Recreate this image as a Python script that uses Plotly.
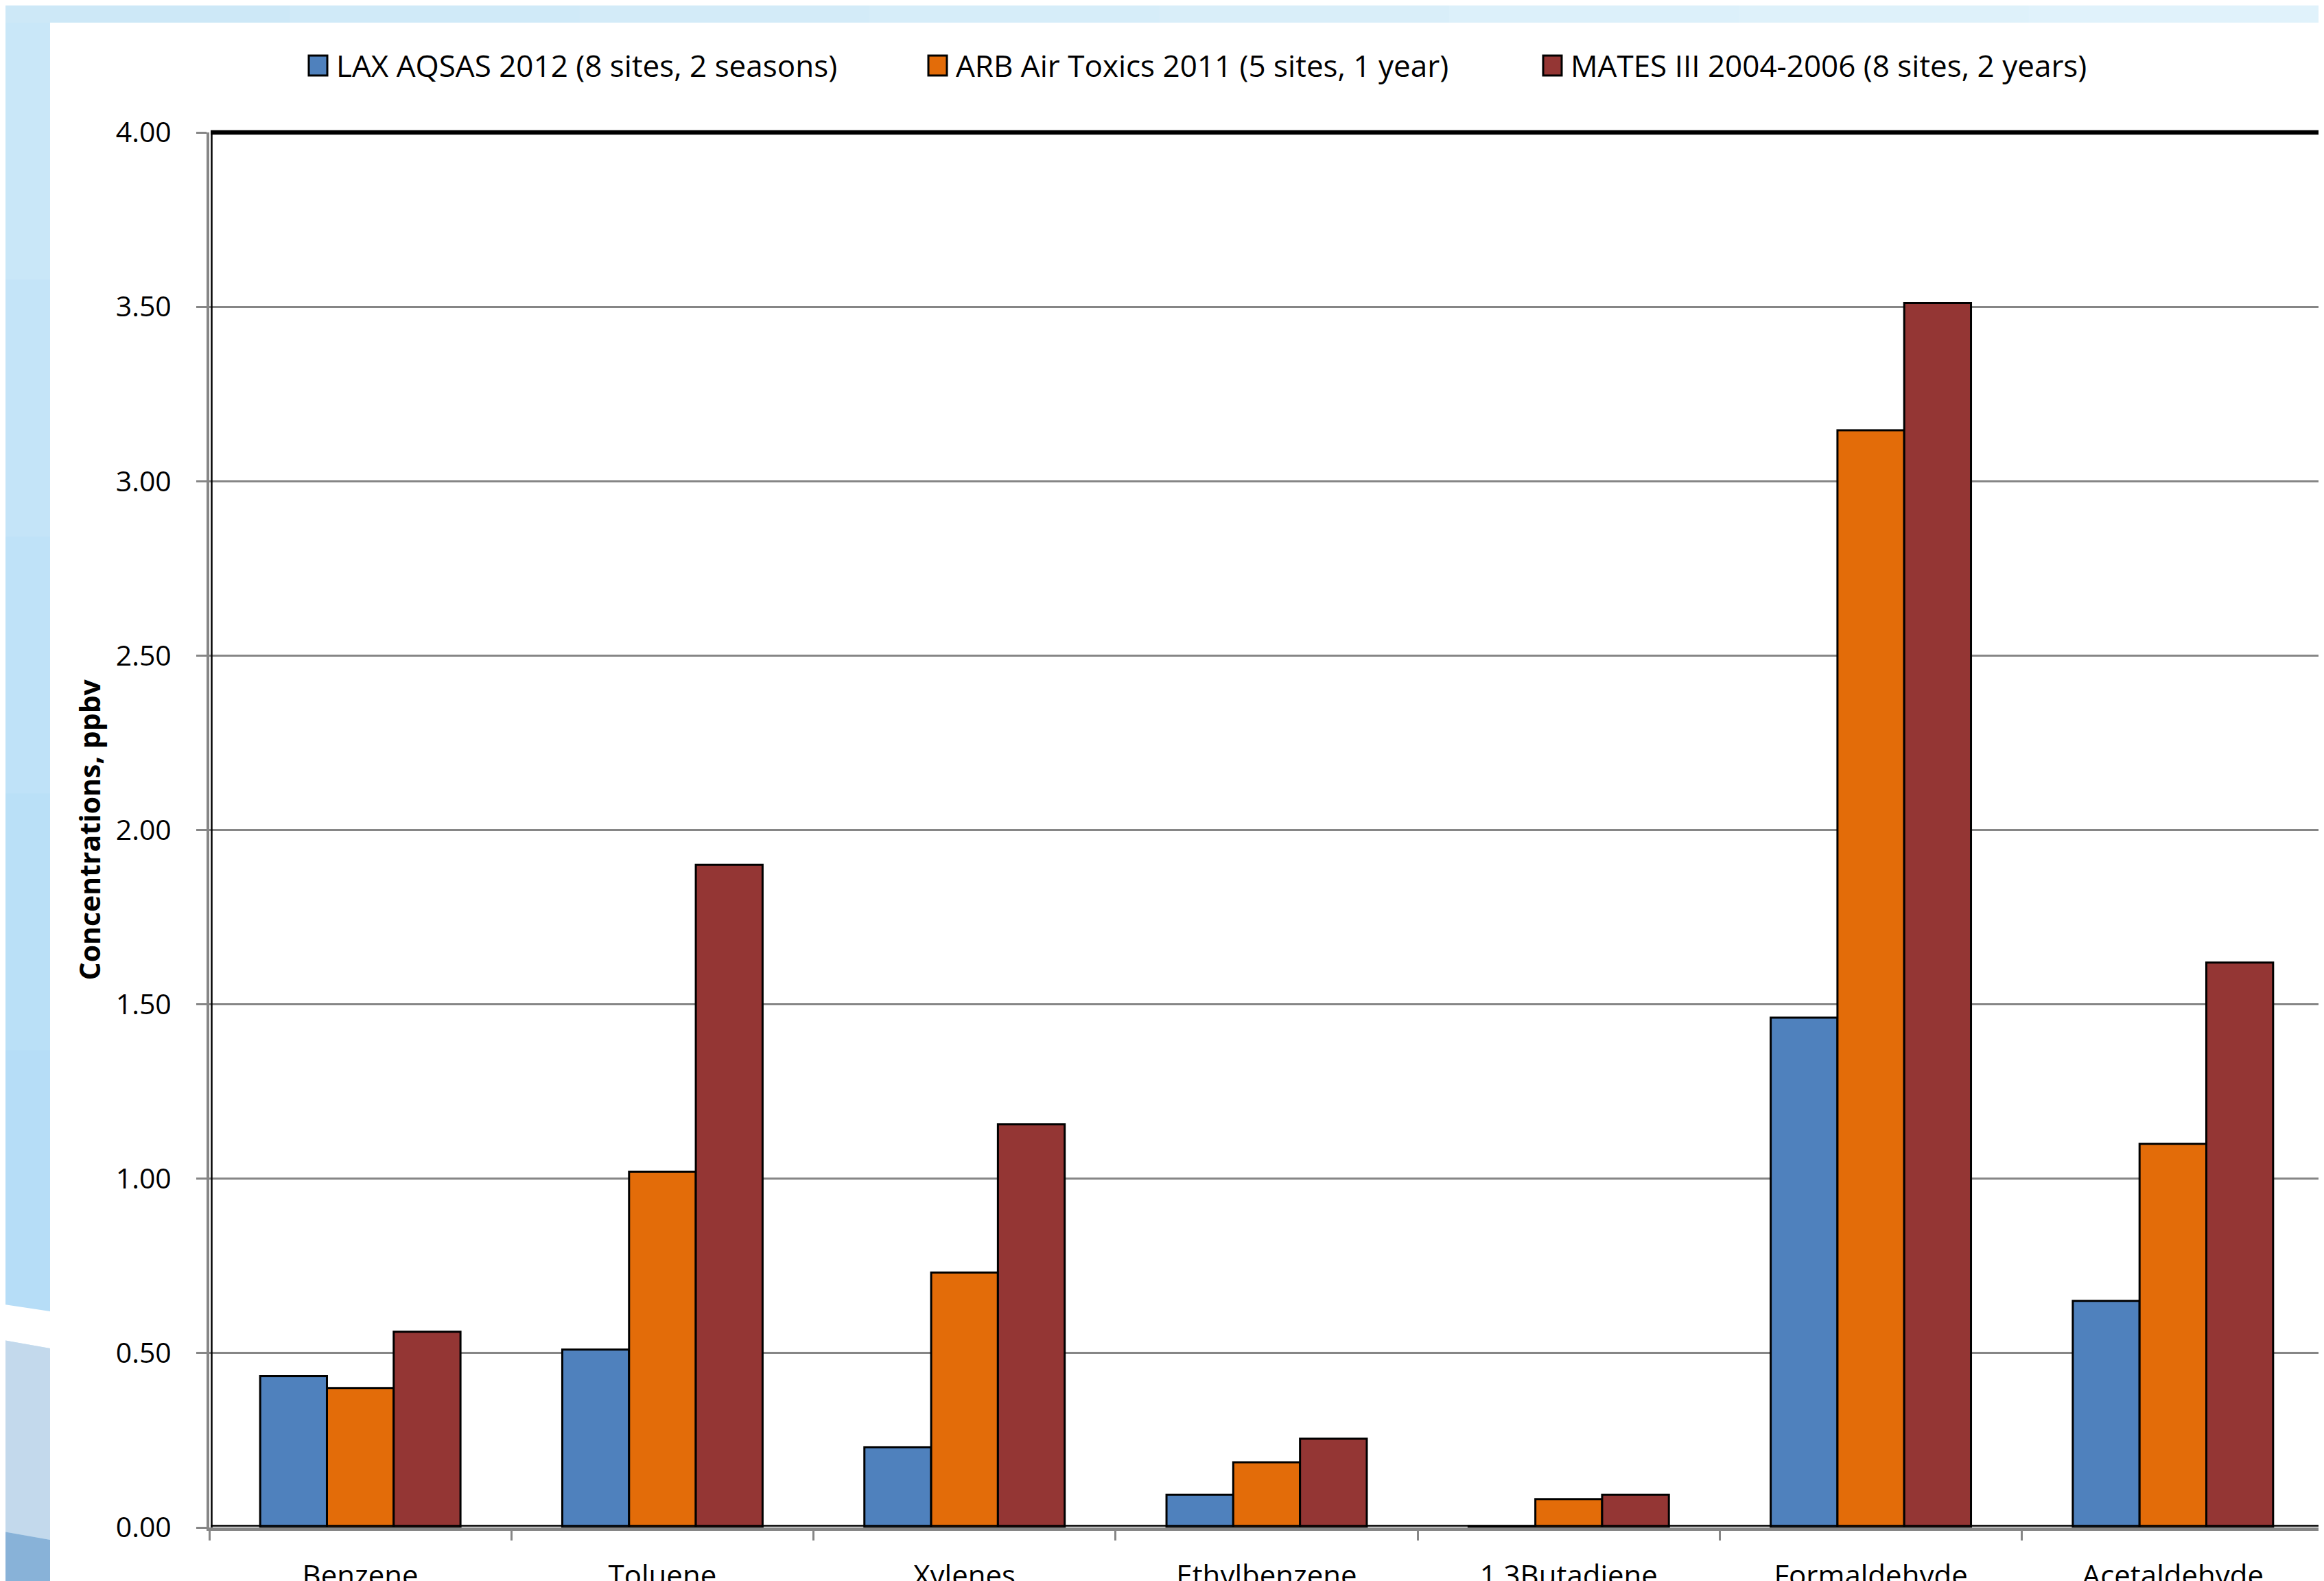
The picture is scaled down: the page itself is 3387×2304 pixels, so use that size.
import plotly.graph_objects as go

# ---------------- data ----------------
categories = ["Benzene", "Toluene", "Xylenes", "Ethylbenzene",
              "1,3Butadiene", "Formaldehyde", "Acetaldehyde"]
series_names = ["LAX AQSAS 2012 (8 sites, 2 seasons)",
                "ARB Air Toxics 2011 (5 sites, 1 year)",
                "MATES III 2004-2006 (8 sites, 2 years)"]
lax_2012 = [0.434, 0.51, 0.23, 0.094, 0.004, 1.462, 0.65]
arb_2011 = [0.40, 1.02, 0.731, 0.187, 0.081, 3.146, 1.10]
mates_iii = [0.561, 1.90, 1.156, 0.255, 0.094, 3.511, 1.62]
y_tick_values = [0.0, 0.5, 1.0, 1.5, 2.0, 2.5, 3.0, 3.5, 4.0]
y_title = "Concentrations, ppbv"

# ---------------- style / layout ----------------
OFF = 8                      # default page body margin
W, H = 3387 - OFF, 2304 - OFF
ML, MR, MT, MB = 305 - OFF, 0, 193 - OFF, 78
PW, PH = W - ML - MR, H - MT - MB
colors = ["#4F81BD", "#E36C09", "#943634"]
FONT = "Open Sans"


def px2x(px):
    """screen px (reference image) -> paper x"""
    return (px - OFF - ML) / PW


def px2y(py):
    """screen px (reference image) -> paper y"""
    return (H - MB - (py - OFF)) / PH


fig = go.Figure()
for name, vals, col in zip(series_names, [lax_2012, arb_2011, mates_iii], colors):
    fig.add_trace(go.Bar(x=categories, y=vals, name=name,
                         marker=dict(color=col, line=dict(color="black", width=3)),
                         showlegend=False))

shapes = []
# slide background decoration
top_cols = ["#cde8f7", "#d0eaf8", "#d3ebf8", "#d6edf9", "#d9eef9", "#dcf0fa", "#def1fa", "#e0f2fb"]
n = len(top_cols)
for i, c in enumerate(top_cols):
    shapes.append(dict(type="rect", xref="paper", yref="paper",
                       x0=px2x(W * i / n), x1=px2x(W * (i + 1) / n + 10),
                       y0=px2y(33), y1=px2y(0), fillcolor=c, line=dict(width=0), layer="below"))
left_cols = ["#c9e7f8", "#c4e4f8", "#bfe2f8", "#bae0f7", "#b6ddf7"]
m = len(left_cols)
for i, c in enumerate(left_cols):
    y0 = 33 + (1905 - 33) * i / m
    y1 = 33 + (1905 - 33) * (i + 1) / m + 2
    shapes.append(dict(type="rect", xref="paper", yref="paper",
                       x0=px2x(0), x1=px2x(73), y0=px2y(y1), y1=px2y(y0),
                       fillcolor=c, line=dict(width=0), layer="below"))
shapes.append(dict(type="path", xref="paper", yref="paper",
                   path="M {a},{b} L {c},{b} L {c},{d} L {a},{e} Z".format(
                       a=px2x(0), c=px2x(73), b=px2y(1890), d=px2y(1965), e=px2y(1952)),
                   fillcolor="#ffffff", line=dict(width=0), layer="below"))
shapes.append(dict(type="path", xref="paper", yref="paper",
                   path="M {a},{b} L {c},{b} L {c},{d} L {a},{e} Z".format(
                       a=px2x(0), c=px2x(73), b=px2y(1880), d=px2y(1911), e=px2y(1900)),
                   fillcolor="#b6ddf7", line=dict(width=0), layer="below"))
shapes.append(dict(type="path", xref="paper", yref="paper",
                   path="M {a},{b} L {c},{d} L {c},{f} L {a},{g} Z".format(
                       a=px2x(0), c=px2x(73), b=px2y(1952), d=px2y(1965), f=px2y(2244), g=px2y(2231)),
                   fillcolor="#c3d9ec", line=dict(width=0), layer="below"))
shapes.append(dict(type="path", xref="paper", yref="paper",
                   path="M {a},{b} L {c},{d} L {c},{f} L {a},{f} Z".format(
                       a=px2x(0), c=px2x(73), b=px2y(2231), d=px2y(2244), f=px2y(2310)),
                   fillcolor="#88b2d8", line=dict(width=0), layer="below"))
# white chart panel
shapes.append(dict(type="rect", xref="paper", yref="paper",
                   x0=px2x(73), x1=px2x(3400), y0=px2y(2310), y1=px2y(33),
                   fillcolor="white", line=dict(width=0), layer="below"))
# plot-area border lines (black)
shapes.append(dict(type="line", xref="paper", yref="paper", x0=px2x(307), x1=1.01, y0=1, y1=1,
                   line=dict(color="black", width=6.5)))
shapes.append(dict(type="line", xref="paper", yref="paper", x0=px2x(308.5), x1=px2x(308.5),
                   y0=0, y1=1, line=dict(color="black", width=2.5)))
shapes.append(dict(type="line", xref="paper", yref="paper", x0=px2x(307), x1=1.01,
                   y0=px2y(2223.5), y1=px2y(2223.5), line=dict(color="black", width=2.5)))

annotations = []
# legend drawn manually (Excel-style large swatches)
legend_sq_left = [450, 1353, 2249]
for name, col, sx in zip(series_names, colors, legend_sq_left):
    shapes.append(dict(type="rect", xref="paper", yref="paper",
                       x0=px2x(sx), x1=px2x(sx + 27), y0=px2y(110), y1=px2y(81),
                       fillcolor=col, line=dict(color="black", width=3)))
    annotations.append(dict(x=px2x(sx + 38), y=px2y(95), xref="paper", yref="paper",
                            text=name, showarrow=False, xanchor="left", yanchor="middle",
                            font=dict(family=FONT, size=44, color="black")))
# y-axis title
annotations.append(dict(x=px2x(129), y=0.5, xref="paper", yref="paper", text="<b>" + y_title + "</b>",
                        textangle=-90, showarrow=False, xanchor="center", yanchor="middle",
                        font=dict(family=FONT, size=41, color="black")))

fig.update_layout(
    width=W, height=H,
    margin=dict(l=ML, r=MR, t=MT, b=MB, autoexpand=False),
    paper_bgcolor="#cfe9f8",
    plot_bgcolor="rgba(0,0,0,0)",
    barmode="group", bargap=0.337, bargroupgap=0,
    shapes=shapes, annotations=annotations,
    showlegend=False,
    font=dict(family=FONT, color="black"),
)
fig.update_xaxes(range=[-0.5, 6.5], showgrid=False, showline=True, linecolor="#868686", linewidth=5,
                 ticks="outside", tickson="boundaries", ticklen=14, tickwidth=3, tickcolor="#868686",
                 tickfont=dict(family=FONT, size=42, color="black"), ticklabelstandoff=30)
fig.update_yaxes(range=[0, 4], tickvals=y_tick_values, tickformat=".2f",
                 showgrid=True, gridcolor="#868686", gridwidth=3, zeroline=False,
                 showline=True, linecolor="#868686", linewidth=4,
                 ticks="outside", ticklen=15, tickwidth=3, tickcolor="#868686",
                 tickfont=dict(family=FONT, size=41, color="black"), ticklabelstandoff=28)

fig.write_html("out.html")
